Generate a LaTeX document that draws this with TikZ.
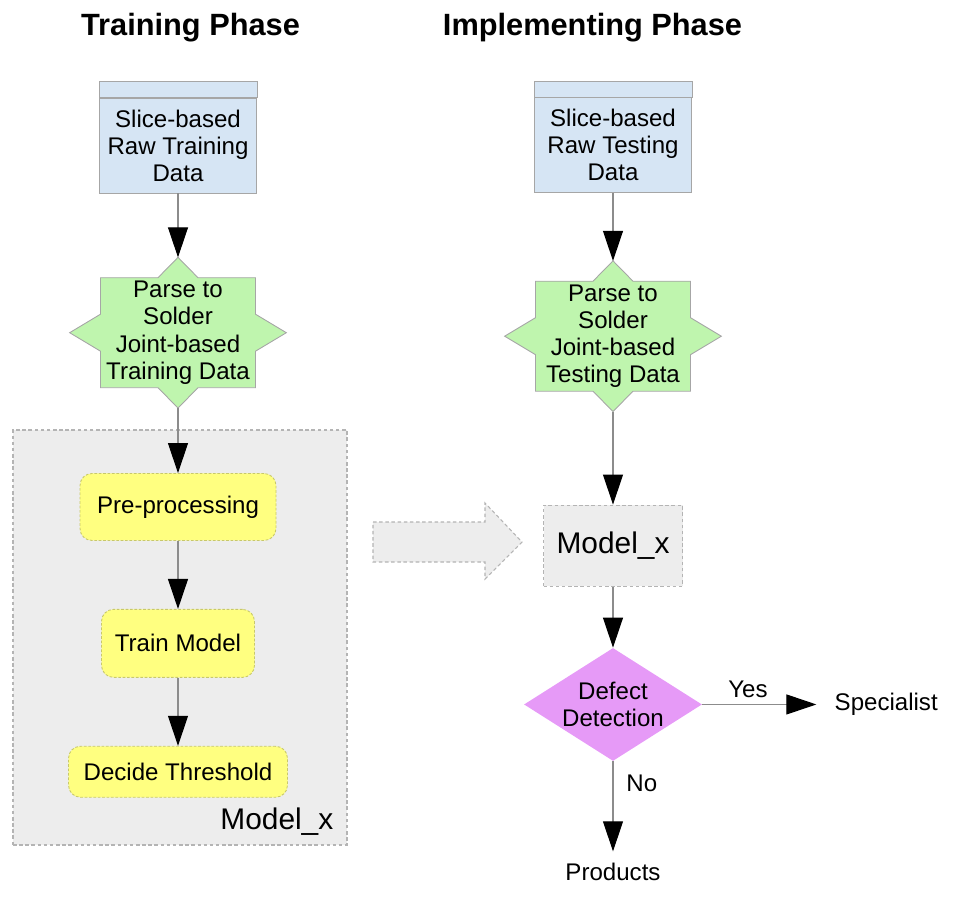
\documentclass[tikz,border=0pt]{standalone}
\usepackage{fontspec}
\setmainfont{Liberation Sans}
\usepackage{tikz}
\usetikzlibrary{shapes,arrows.meta}
\usetikzlibrary{positioning,backgrounds}
\definecolor{rawblue}{HTML}{D6E5F4}
\definecolor{rawline}{HTML}{A6A6A6}
\definecolor{parsegreen}{HTML}{BFF5AE}
\definecolor{stepyellow}{HTML}{FFFF80}
\definecolor{stepline}{HTML}{C8C86A}
\definecolor{modelgray}{HTML}{EDEDED}
\definecolor{dashgray}{HTML}{B4B4B4}
\definecolor{decidepink}{HTML}{E69AF7}
\tikzstyle{arrow} = [draw=black!45, line width=0.6pt, -{Triangle[length=0.6cm,width=0.4cm,color=black]}]
\tikzstyle{rawdata} = [
    rectangle, minimum width=3.14cm, minimum height=1.9cm, align=center,
    inner sep=0pt, fill=rawblue, draw=rawline]
\tikzstyle{parse} = [rectangle, minimum width=4.32cm, minimum height=3cm, align=center, inner sep=0pt]
\tikzstyle{spike} = [fill=parsegreen, draw=rawline, line width=0.5pt]
\tikzstyle{stepbox} = [
    rectangle, rounded corners=0.24cm, align=center, fill=stepyellow, draw=stepline,
    dash pattern=on 1.5pt off 1pt, line width=0.5pt]
\tikzstyle{ghost} = [rectangle, fill=modelgray, draw=dashgray, dash pattern=on 2pt off 1.5pt, line width=0.6pt]
\tikzstyle{decision} = [
    diamond, aspect=1.58, inner sep=0pt, minimum width=3.56cm, minimum height=2.26cm,
    align=center, fill=decidepink]
\tikzstyle{phase} = [font=\fontsize{17.5}{20}\selectfont\bfseries, anchor=base]
\newcommand{\spikes}[1]{%
    \draw[spike] ([shift={(-1.55,1.1)}]#1.center) -- ([shift={(-0.4,1.1)}]#1.center) -- (#1.north)
        -- ([shift={(0.4,1.1)}]#1.center) -- ([shift={(1.55,1.1)}]#1.center)
        -- ([shift={(1.55,0.37)}]#1.center) -- (#1.east) -- ([shift={(1.55,-0.37)}]#1.center)
        -- ([shift={(1.55,-1.1)}]#1.center) -- ([shift={(0.4,-1.1)}]#1.center) -- (#1.south)
        -- ([shift={(-0.4,-1.1)}]#1.center) -- ([shift={(-1.55,-1.1)}]#1.center)
        -- ([shift={(-1.55,-0.37)}]#1.center) -- (#1.west) -- ([shift={(-1.55,0.37)}]#1.center) -- cycle;}

\begin{document}
\begin{tikzpicture}[font=\fontsize{13.7}{15.4}\selectfont]
\useasboundingbox (0,0) rectangle (19.1,-18.1);

\node (title1) [phase] at (3.81,-0.72) {Training Phase};
\node (title2) [phase] at (11.85,-0.72) {Implementing Phase};

\node (raw1) [rawdata] at (3.56,-2.91) {
    Slice-based \\
    Raw Training \\
    Data
};
\draw [fill=rawblue, draw=rawline] (raw1.north west) rectangle ([yshift=0.32cm]raw1.north east);

\node (parse1) [parse, below=1.28cm of raw1] {
    Parse to \\
    Solder \\
    Joint-based \\
    Training Data
};

\node (modelbox) [ghost, minimum width=6.68cm, minimum height=8.3cm] at (3.6,-12.75) {};
\node (modelname) [anchor=base east, font=\fontsize{17}{20}\selectfont]
    at ([shift={(-0.16,0.32)}]modelbox.south east) {Model\_x};

\node (pre) [stepbox, minimum width=3.92cm, minimum height=1.34cm, below=1.3cm of parse1] {Pre-processing};
\node (train) [stepbox, minimum width=3.06cm, minimum height=1.36cm, below=1.36cm of pre] {Train Model};
\node (thresh) [stepbox, minimum width=4.38cm, minimum height=1.02cm, below=1.36cm of train] {Decide Threshold};

\draw [ghost] (7.46,-10.44) -- (9.7,-10.44) -- (9.7,-10.06) -- (10.44,-10.84)
    -- (9.7,-11.58) -- (9.7,-11.24) -- (7.46,-11.24) -- cycle;

\node (raw2) [rawdata] at (12.26,-2.9) {
    Slice-based \\
    Raw Testing \\
    Data
};
\draw [fill=rawblue, draw=rawline] (raw2.north west) rectangle ([yshift=0.32cm]raw2.north east);

\node (parse2) [parse, below=1.36cm of raw2] {
    Parse to \\
    Solder \\
    Joint-based \\
    Testing Data
};

\node (model) [ghost, minimum width=2.78cm, minimum height=1.62cm, below=1.86cm of parse2,
    font=\fontsize{17}{20}\selectfont] {Model\_x};
\node (detect) [decision, below=1.22cm of model] {Defect \\ Detection};
\node (spec) [right=2.28cm of detect, inner xsep=0.36cm, inner ysep=0pt] {Specialist};
\node (prod) [below=1.8cm of detect, inner ysep=0.22cm] {Products};

\begin{scope}[on background layer]
\spikes{parse1}
\spikes{parse2}
\end{scope}

\draw [arrow] (raw1) -- (parse1);
\draw [arrow] (parse1) -- (pre);
\draw [arrow] (pre) -- (train);
\draw [arrow] (train) -- (thresh);
\draw [arrow] (raw2) -- (parse2);
\draw [arrow] (parse2) -- (model);
\draw [arrow] (model) -- (detect);
\draw [arrow] (detect) -- node[above, pos=0.4] {Yes} (spec);
\draw [arrow] (detect) -- node[right, pos=0.25, xshift=0.14cm] {No} (prod);
\end{tikzpicture}
\end{document}
